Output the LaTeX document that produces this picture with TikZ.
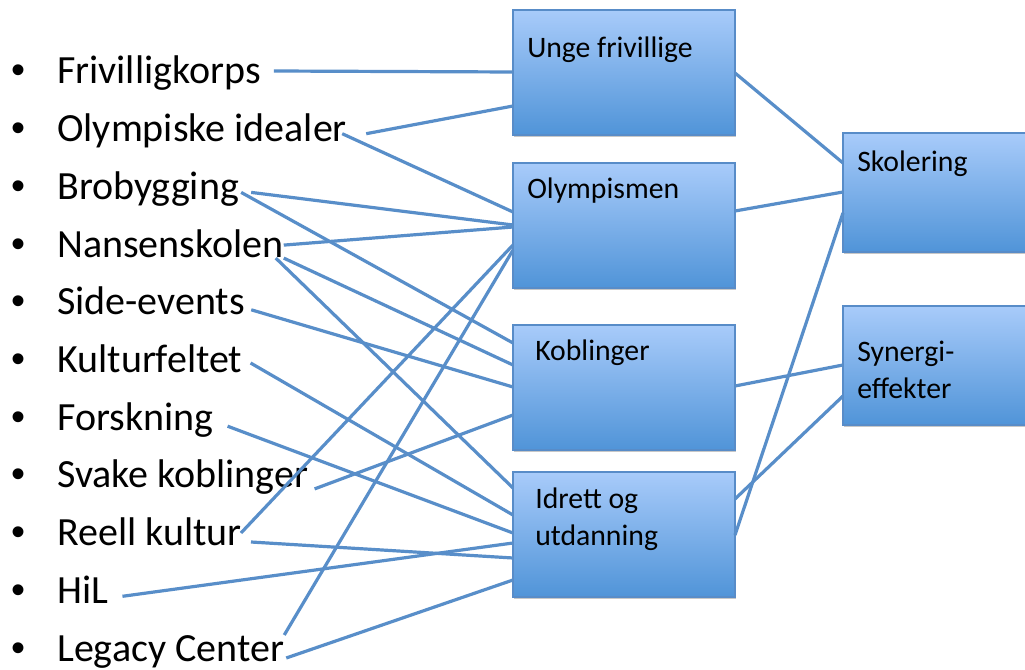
\documentclass[tikz,border=0pt]{standalone}
\usepackage{fontspec}
\setmainfont{Carlito}
\newfontfamily\bulletfont{Liberation Sans}
\usetikzlibrary{calc,shadows}

\definecolor{linkblue}{RGB}{88,142,201}
\definecolor{boxtop}{RGB}{168,203,250}
\definecolor{boxbottom}{RGB}{80,148,216}
\definecolor{boxedge}{RGB}{88,140,200}

\begin{document}
\begin{tikzpicture}[x=0.75pt,y=-0.75pt,
  item/.style={anchor=base west, inner sep=0pt, font=\fontsize{30}{36}\selectfont},
  dot/.style={anchor=base west, inner sep=0pt, font=\bulletfont\fontsize{30}{36}\selectfont},
  theme/.style={rectangle, draw=boxedge, line width=1.1pt, top color=boxtop, bottom color=boxbottom,
    inner sep=0pt, outer sep=0pt, anchor=north west, minimum width=166.5pt, minimum height=93.75pt,
    drop shadow={shadow xshift=0.6pt, shadow yshift=-1.6pt, opacity=0.22, fill=black}},
  caption/.style={anchor=base west, inner sep=0pt, align=left, font=\fontsize{22.3}{27.75}\selectfont},
  link/.style={draw=linkblue, line width=2.4pt}
]
\useasboundingbox (0,0) rectangle (1025,670);
\fill[white] (0,0) rectangle (1025,670);

% theme boxes
\node[theme] (unge)  at (513,10)  {};
\node[theme] (olymp) at (513,163) {};
\node[theme] (kob)   at (513,325) {};
\node[theme] (idr)   at (513,472) {};
\node[theme, minimum height=89.25pt] (skol) at (843,133) {};
\node[theme, minimum height=89.25pt] (syn)  at (843,306) {};

% captions (base anchor of a two-line caption sits on its last line)
\node[caption] (ungeL)  at ($(unge.north west)+(14,48)$)  {Unge frivillige};
\node[caption] (olympL) at ($(olymp.north west)+(14,36)$) {Olympismen};
\node[caption] (kobL)   at ($(kob.north west)+(22,36)$)   {Koblinger};
\node[caption] (idrL)   at ($(idr.north west)+(22,73)$)   {Idrett og\\utdanning};
\node[caption] (skolL)  at ($(skol.north west)+(14,39)$)  {Skolering};
\node[caption] (synL)   at ($(syn.north west)+(14,92)$)   {Synergi-\\effekter};

% bullet list
\foreach \yb [count=\i] in {84,141.7,199.4,257.1,314.8,372.5,430.2,487.9,545.6,603.3,661}
  \node[dot] (b\i) at (11,\yb) {\textbullet};
\node[item] (fk)    at (57,84)    {Frivilligkorps};
\node[item] (oi)    at (57,141.7) {Olympiske idealer};
\node[item] (bro)   at (57,199.4) {Brobygging};
\node[item] (nan)   at (57,257.1) {Nansenskolen};
\node[item] (side)  at (57,314.8) {Side-events};
\node[item] (kult)  at (57,372.5) {Kulturfeltet};
\node[item] (forsk) at (57,430.2) {Forskning};
\node[item] (svak)  at (57,487.9) {Svake koblinger};
\node[item] (reell) at (57,545.6) {Reell kultur};
\node[item] (hil)   at (57,603.3) {HiL};
\node[item] (leg)   at (57,661)   {Legacy Center};

% links from the list to the themes
\draw[link] ($(fk.base east)+(13,-13)$)     -- ($(unge.north west)+(0,62)$);
\draw[link] ($(oi.base east)+(19,-8)$)      -- ($(unge.north west)+(0,96)$);
\draw[link] ($(oi.base east)+(-5,-8)$)      -- ($(olymp.north west)+(0,49)$);
\draw[link] ($(bro.base east)+(12,-7)$)     -- ($(olymp.north west)+(0,62)$);
\draw[link] ($(bro.base east)+(2,-7)$)      -- ($(kob.north west)+(0,18)$);
\draw[link] ($(nan.base east)+(0,-12)$)     -- ($(olymp.north west)+(0,64)$);
\draw[link] ($(nan.base east)+(0,1)$)       -- ($(kob.north west)+(0,40)$);
\draw[link] ($(nan.base east)+(-8,1)$)      -- ($(idr.north west)+(0,16)$);
\draw[link] ($(side.base east)+(6,-5)$)     -- ($(kob.north west)+(0,62)$);
\draw[link] ($(kult.base east)+(8,-9.5)$)   -- ($(idr.north west)+(0,43)$);
\draw[link] ($(forsk.base east)+(14,-4)$)   -- ($(idr.north west)+(0,61)$);
\draw[link] ($(svak.base east)+(6,1)$)      -- ($(kob.north west)+(0,90)$);
\draw[link] ($(reell.base east)+(-1,-12.6)$) -- ($(olymp.north west)+(0,82)$);
\draw[link] ($(reell.base east)+(9,-3.6)$)  -- ($(idr.north west)+(0,86)$);
\draw[link] ($(hil.base east)+(14,-7)$)     -- ($(idr.north west)+(0,71)$);
\draw[link] ($(leg.base east)+(0,-26)$)     -- ($(olymp.north west)+(0,87)$);
\draw[link] ($(leg.base east)+(2,-3)$)      -- ($(idr.north west)+(0,108)$);

% links from the themes to the outcomes
\draw[link] ($(unge.north east)+(0,63)$)  -- ($(skol.north west)+(0,30)$);
\draw[link] ($(olymp.north east)+(0,48)$) -- ($(skol.north west)+(0,59)$);
\draw[link] ($(idr.north east)+(0,63)$)   -- ($(skol.north west)+(0,80)$);
\draw[link] ($(kob.north east)+(0,61)$)   -- ($(syn.north west)+(0,59)$);
\draw[link] ($(idr.north east)+(0,27)$)   -- ($(syn.north west)+(0,90)$);
\end{tikzpicture}
\end{document}
